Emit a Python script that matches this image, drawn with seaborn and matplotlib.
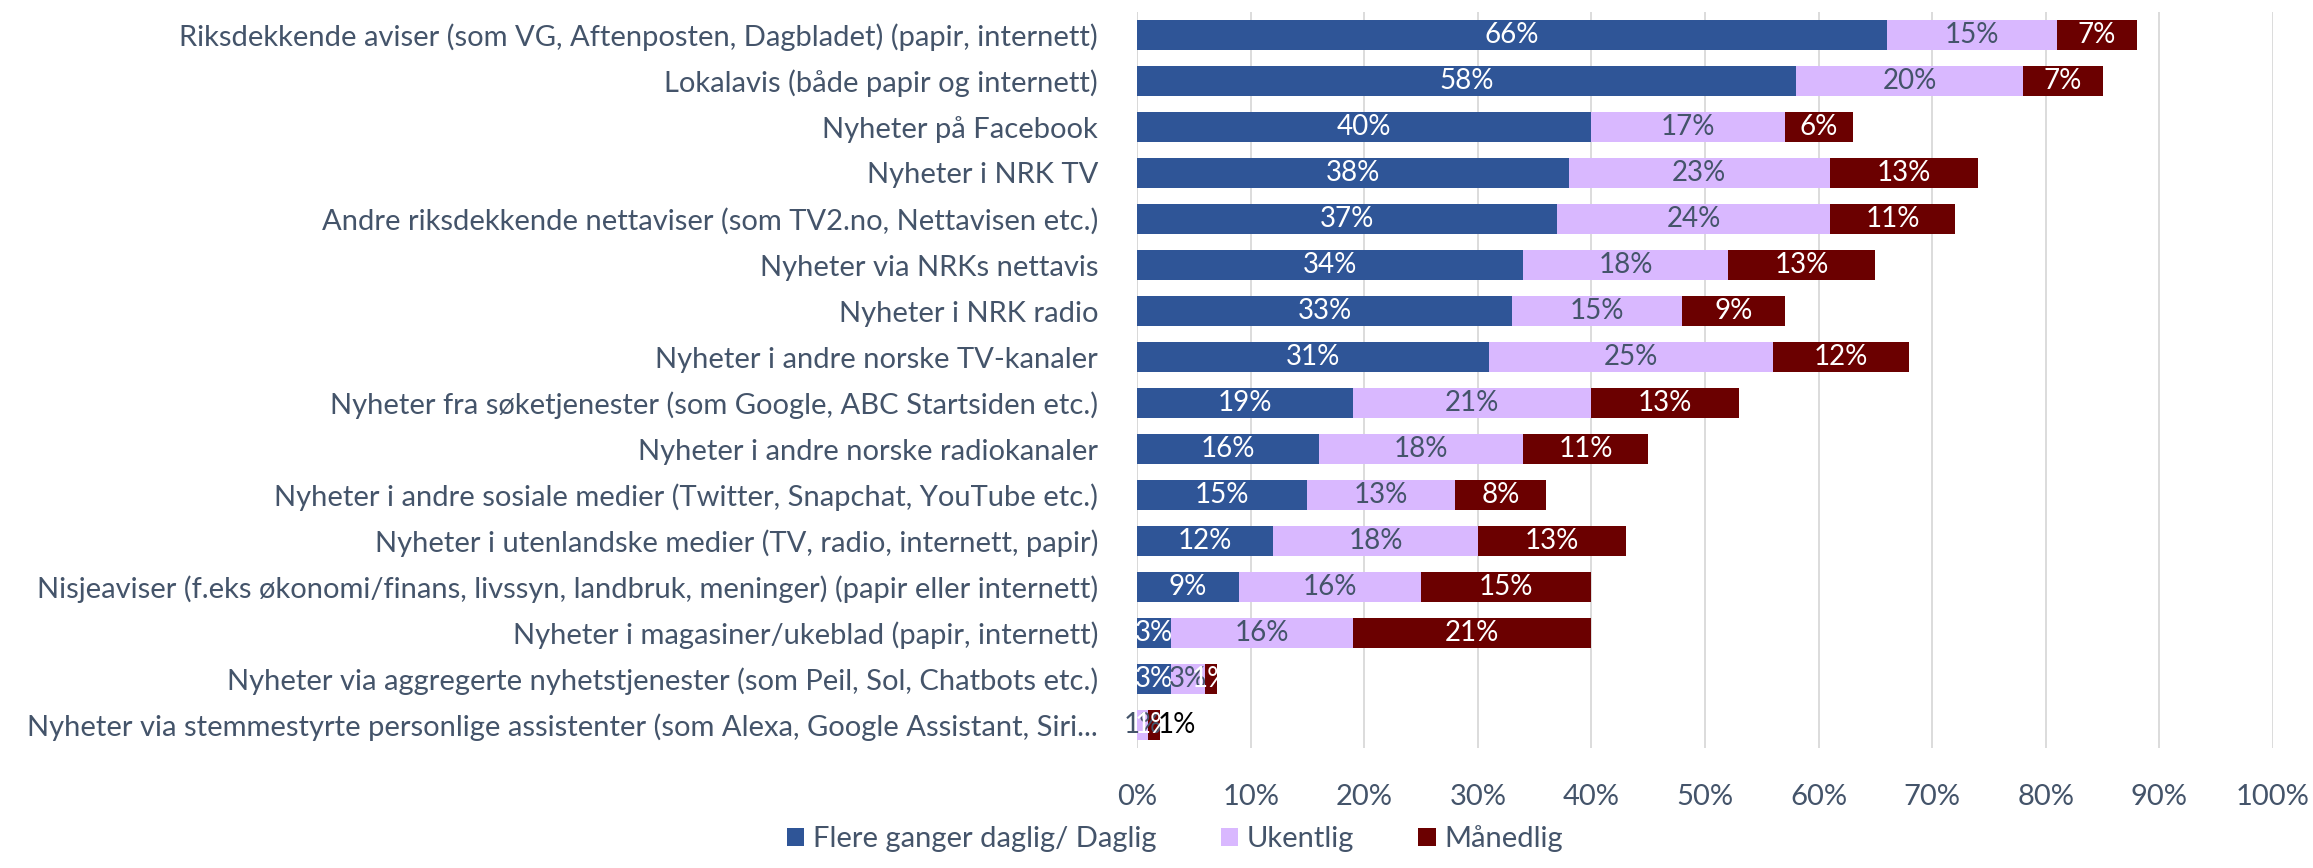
import seaborn as sns
import matplotlib.pyplot as plt
import pandas as pd

# Kategorier og verdier (prosent)
kategorier = [
    "Riksdekkende aviser (som VG, Aftenposten, Dagbladet) (papir, internett)",
    "Lokalavis (både papir og internett)",
    "Nyheter på Facebook",
    "Nyheter i NRK TV",
    "Andre riksdekkende nettaviser (som TV2.no, Nettavisen etc.)",
    "Nyheter via NRKs nettavis",
    "Nyheter i NRK radio",
    "Nyheter i andre norske TV-kanaler",
    "Nyheter fra søketjenester (som Google, ABC Startsiden etc.)",
    "Nyheter i andre norske radiokanaler",
    "Nyheter i andre sosiale medier (Twitter, Snapchat, YouTube etc.)",
    "Nyheter i utenlandske medier (TV, radio, internett, papir)",
    "Nisjeaviser (f.eks økonomi/finans, livssyn, landbruk, meninger) (papir eller internett)",
    "Nyheter i magasiner/ukeblad (papir, internett)",
    "Nyheter via aggregerte nyhetstjenester (som Peil, Sol, Chatbots etc.)",
    "Nyheter via stemmestyrte personlige assistenter (som Alexa, Google Assistant, Siri...",
]
daglig = [66, 58, 40, 38, 37, 34, 33, 31, 19, 16, 15, 12, 9, 3, 3, 0]
ukentlig = [15, 20, 17, 23, 24, 18, 15, 25, 21, 18, 13, 18, 16, 16, 3, 1]
maanedlig = [7, 7, 6, 13, 11, 13, 9, 12, 13, 11, 8, 13, 15, 21, 1, 1]

serier = ["Flere ganger daglig/ Daglig", "Ukentlig", "Månedlig"]
farger = ["#2F5597", "#D9B8FF", "#6B0000"]
tekstfarger = ["white", "#44546A", "white"]

df = pd.DataFrame({"kat": kategorier, "d": daglig, "u": ukentlig, "m": maanedlig})
df["du"] = df["d"] + df["u"]
df["dum"] = df["du"] + df["m"]

sns.set_style("white")
plt.rcParams["font.family"] = ["Lato", "DejaVu Sans"]

fig = plt.figure(figsize=(23.13, 8.68), dpi=100)
ax = fig.add_axes([0.4916, 0.1382, 0.4911, 0.848])

# Stablede søyler tegnet som overlappende kumulative søyler
for kol, farge, navn in zip(["dum", "du", "d"], farger[::-1], serier[::-1]):
    sns.barplot(data=df, y="kat", x=kol, color=farge, orient="h", width=0.67,
                saturation=1, ax=ax, label=navn, linewidth=0)

# Dataetiketter midt i hvert segment
for i, (d, u, m) in enumerate(zip(daglig, ukentlig, maanedlig)):
    starts = [0, d, d + u]
    for j, v in enumerate([d, u, m]):
        if v == 0:
            continue
        ax.text(starts[j] + v / 2, i, f"{v}%", ha="center", va="center",
                color=tekstfarger[j], fontsize=20)
# ekstra etikett for siste rad
ax.text(daglig[-1] + ukentlig[-1] + maanedlig[-1] + 1.5, len(kategorier) - 1, "1%",
        ha="center", va="center", color="black", fontsize=20)

ax.set_xlim(0, 100)
ax.set_xticks(range(0, 101, 10))
ax.set_xticklabels([f"{t}%" for t in range(0, 101, 10)])
ax.set_xlabel("")
ax.set_ylabel("")
ax.grid(axis="x", color="#D9D9D9", linewidth=1.3)
ax.set_axisbelow(True)
for s in ax.spines.values():
    s.set_visible(False)
ax.axvline(0, color="#D9D9D9", linewidth=1.3, zorder=0)
ax.tick_params(axis="y", length=0, pad=28, labelsize=21, labelcolor="#44546A")
ax.tick_params(axis="x", length=0, pad=26, labelsize=21, labelcolor="#44546A")

handles, labels = ax.get_legend_handles_labels()
if ax.get_legend() is not None:
    ax.get_legend().remove()
leg = fig.legend(handles[::-1], labels[::-1], loc="lower center", bbox_to_anchor=(0.508, -0.012),
                 ncol=3, frameon=False, fontsize=21, handlelength=0.6, handleheight=0.6,
                 columnspacing=2.2, handletextpad=0.3)
for t in leg.get_texts():
    t.set_color("#44546A")

fig.savefig("out.png", dpi=100)
